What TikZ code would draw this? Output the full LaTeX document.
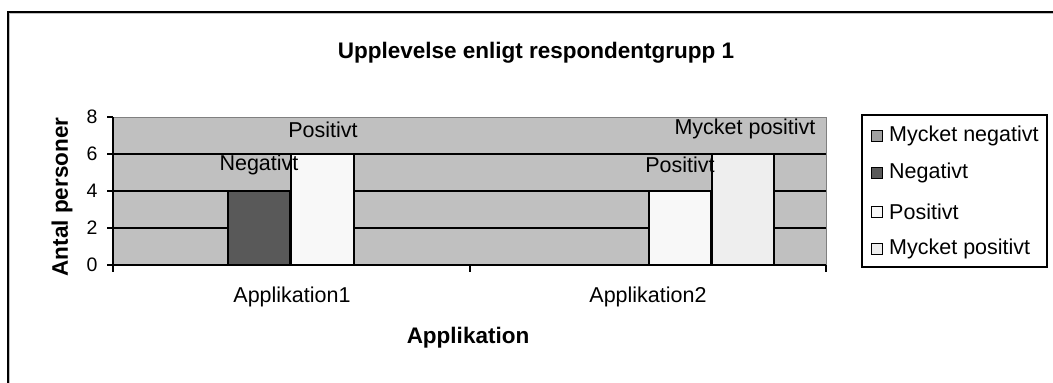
\documentclass[tikz,border=0pt]{standalone}
\usepackage{fontspec}
\setmainfont{Liberation Sans}
\definecolor{plotbg}{HTML}{C0C0C0}
\definecolor{mnegbar}{HTML}{A0A0A0}
\definecolor{negbar}{HTML}{595959}
\definecolor{posbar}{HTML}{F8F8F8}
\definecolor{mposbar}{HTML}{EEEEEE}
\begin{document}
\begin{tikzpicture}[x=1pt,y=-1pt,
  lbl/.style={font=\fontsize{21.5}{24}\selectfont, inner sep=0pt},
  num/.style={font=\fontsize{19.5}{22}\selectfont, inner sep=0pt},
  ttl/.style={font=\bfseries\fontsize{22.5}{26}\selectfont, inner sep=0pt},
  bar/.style={draw=black, line width=1.3pt},
  gridline/.style={line width=1.2pt}]

\useasboundingbox (0,0) rectangle (1053,383);
\draw[line width=2pt] (8,390)--(8,12)--(1060,12);
\draw[gray!50, line width=0.8pt] (9.8,390)--(9.8,13.8)--(1060,13.8);

\node[ttl] (title) at (536,53) {Upplevelse enligt respondentgrupp 1};

\filldraw[fill=plotbg, draw=gray] (113,117) rectangle (826,265);
\foreach \v in {2,4,6}
  \draw[gridline] (113,{265-18.5*\v}) -- (826,{265-18.5*\v});

\filldraw[bar, fill=negbar] (228,265) rectangle (290,191);%Applikation1
\filldraw[bar, fill=posbar] (291,265) rectangle (354,154);
\filldraw[bar, fill=posbar] (649,265) rectangle (711,191);%Applikation2
\filldraw[bar, fill=mposbar] (712,265) rectangle (774,154);

\draw[line width=1.3pt] (113,117) -- (113,265) -- (826,265);
\foreach \v in {0,2,4,6,8}{
  \draw[line width=1.2pt] (107,{265-18.5*\v}) -- (113,{265-18.5*\v});
  \node[num] at (92,{265-18.5*\v}) {\v};
}
\foreach \x in {113,470,826}
  \draw[line width=1.2pt] (\x,265) -- (\x,272);

\node[lbl] (lneg1) at (259,165) {Negativt};
\node[lbl] (lpos1) at (323,130) {Positivt};
\node[lbl] (lpos2) at (680,165) {Positivt};
\node[lbl] (lmpos2) at (745,129) {Mycket positivt};

\node[lbl] (app1) at (292,297) {Applikation1};
\node[lbl] (app2) at (648,297) {Applikation2};
\node[ttl] (xtitle) at (468,338) {Applikation};
\node[ttl, rotate=90] (ytitle) at (62,197) {Antal personer};

\draw[line width=1.3pt] (862,115) rectangle (1047,267);
\foreach \y/\c/\t in {136/mnegbar/Mycket negativt, 173/negbar/Negativt,
                      211.5/posbar/Positivt, 249/mposbar/Mycket positivt}{
  \filldraw[fill=\c, draw=black, line width=1pt] (871,\y-5.5) rectangle (882,\y+5.5);
  \node[lbl, anchor=west] at (889,\y) {\t};
}
\end{tikzpicture}
\end{document}
